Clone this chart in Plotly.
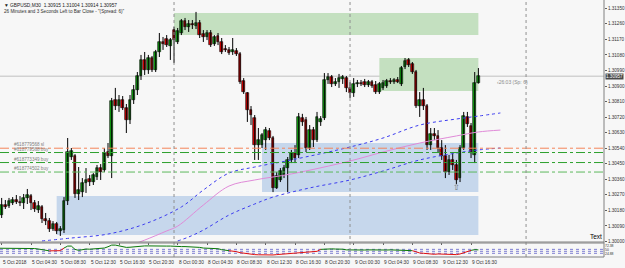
import plotly.graph_objects as go

# ---------------- data ----------------
# GBPUSD M30 bars: 5 Oct 00:00 ... 9 Oct 17:30 (index 0..131)
opens = [1.30182,1.30153,1.30211,1.30205,1.30223,1.30240,1.30228,1.30223,1.30252,1.30263,
         1.30223,1.30182,1.30199,1.30130,1.30118,1.30072,1.30101,1.30061,1.30066,1.30234,
         1.30489,1.30495,1.30275,1.30286,1.30338,1.30362,1.30344,1.30373,1.30425,1.30414,
         1.30518,1.30495,1.30819,1.30784,1.30819,1.30773,1.30703,1.30819,1.30877,1.30958,
         1.31051,1.30993,1.31062,1.30993,1.31097,1.31155,1.31172,1.31132,1.31224,1.31155,
         1.31207,1.31276,1.31242,1.31259,1.31248,1.31265,1.31201,1.31184,1.31207,1.31143,
         1.31190,1.31155,1.31114,1.31109,1.31097,1.31103,1.31085,1.30929,1.30860,1.30761,
         1.30715,1.30558,1.30558,1.30587,1.30640,1.30599,1.30310,1.30356,1.30385,1.30425,
         1.30472,1.30512,1.30501,1.30715,1.30703,1.30541,1.30645,1.30587,1.30692,1.30715,
         1.30935,1.30952,1.30912,1.30923,1.30941,1.30946,1.30889,1.30860,1.30912,1.30917,
         1.30923,1.30906,1.30923,1.30906,1.30865,1.30889,1.30900,1.30929,1.30923,1.30935,
         1.30912,1.31010,1.31051,1.31027,1.30981,1.30784,1.30819,1.30784,1.30558,1.30622,
         1.30611,1.30541,1.30495,1.30402,1.30472,1.30443,1.30367,1.30541,1.30721,1.30669,
         1.30501,1.30915]
highs = [1.30211,1.30252,1.30240,1.30252,1.30257,1.30269,1.30263,1.30275,1.30304,1.30275,
         1.30240,1.30234,1.30211,1.30165,1.30136,1.30118,1.30113,1.30089,1.30257,1.30599,
         1.30541,1.30506,1.30431,1.30367,1.30425,1.30385,1.30396,1.30443,1.30448,1.30541,
         1.30570,1.30831,1.30889,1.30848,1.30842,1.30796,1.30848,1.30906,1.30981,1.31080,
         1.31097,1.31080,1.31074,1.31109,1.31207,1.31184,1.31195,1.31178,1.31242,1.31236,
         1.31288,1.31294,1.31282,1.31282,1.31329,1.31282,1.31224,1.31224,1.31224,1.31195,
         1.31207,1.31178,1.31137,1.31126,1.31178,1.31120,1.31097,1.30946,1.30865,1.30784,
         1.30732,1.30657,1.30628,1.30663,1.30657,1.30611,1.30402,1.30425,1.30443,1.30489,
         1.30530,1.30558,1.30744,1.30739,1.30721,1.30674,1.30663,1.30750,1.30726,1.30975,
         1.30975,1.30964,1.30946,1.30970,1.30964,1.30958,1.30923,1.30946,1.30935,1.30935,
         1.30941,1.30935,1.30935,1.30929,1.30923,1.30935,1.30941,1.30946,1.30946,1.30952,
         1.31016,1.31062,1.31062,1.31039,1.30993,1.30865,1.30889,1.30796,1.30657,1.30657,
         1.30645,1.30587,1.30558,1.30501,1.30518,1.30472,1.30558,1.30750,1.30750,1.30686,
         1.30981,1.31004]
lows = [1.30159,1.30136,1.30188,1.30194,1.30211,1.30217,1.30205,1.30188,1.30217,1.30182,
        1.30171,1.30165,1.30107,1.30095,1.30055,1.30061,1.30043,1.30032,1.30049,1.30211,
        1.30472,1.30252,1.30240,1.30257,1.30281,1.30321,1.30327,1.30356,1.30356,1.30402,
        1.30483,1.30367,1.30761,1.30750,1.30761,1.30628,1.30680,1.30796,1.30848,1.30935,
        1.30964,1.30970,1.30981,1.30981,1.31068,1.31109,1.31126,1.31051,1.31033,1.31143,
        1.31195,1.31224,1.31213,1.31230,1.31230,1.31178,1.31155,1.31166,1.31126,1.31132,
        1.31137,1.31085,1.31097,1.31080,1.31080,1.31074,1.30912,1.30854,1.30692,1.30674,
        1.30472,1.30472,1.30541,1.30530,1.30587,1.30286,1.30304,1.30344,1.30367,1.30286,
        1.30454,1.30454,1.30483,1.30669,1.30518,1.30530,1.30547,1.30576,1.30669,1.30703,
        1.30912,1.30894,1.30900,1.30889,1.30912,1.30865,1.30831,1.30837,1.30894,1.30900,
        1.30894,1.30894,1.30889,1.30854,1.30854,1.30877,1.30889,1.30912,1.30912,1.30917,
        1.30900,1.30998,1.31010,1.30970,1.30773,1.30721,1.30761,1.30530,1.30530,1.30587,
        1.30518,1.30472,1.30367,1.30385,1.30414,1.30333,1.30344,1.30530,1.30663,1.30483,
        1.30454,1.30914]
closes = [1.30171,1.30211,1.30199,1.30234,1.30240,1.30228,1.30223,1.30252,1.30269,1.30223,
          1.30188,1.30205,1.30130,1.30118,1.30072,1.30101,1.30061,1.30072,1.30234,1.30518,
          1.30524,1.30275,1.30298,1.30338,1.30356,1.30344,1.30385,1.30425,1.30402,1.30512,
          1.30495,1.30813,1.30784,1.30819,1.30773,1.30703,1.30819,1.30877,1.30958,1.31051,
          1.30993,1.31062,1.30993,1.31097,1.31155,1.31143,1.31137,1.31166,1.31166,1.31219,
          1.31276,1.31242,1.31259,1.31253,1.31265,1.31195,1.31184,1.31207,1.31137,1.31184,
          1.31155,1.31097,1.31109,1.31091,1.31109,1.31085,1.30923,1.30865,1.30761,1.30732,
          1.30558,1.30587,1.30616,1.30645,1.30599,1.30310,1.30379,1.30408,1.30425,1.30472,
          1.30512,1.30483,1.30721,1.30692,1.30541,1.30645,1.30587,1.30721,1.30709,1.30935,
          1.30952,1.30912,1.30923,1.30946,1.30952,1.30889,1.30860,1.30912,1.30917,1.30912,
          1.30906,1.30923,1.30900,1.30865,1.30912,1.30917,1.30929,1.30923,1.30935,1.30923,
          1.31004,1.31045,1.31022,1.30981,1.30784,1.30819,1.30784,1.30558,1.30622,1.30611,
          1.30541,1.30495,1.30402,1.30472,1.30443,1.30356,1.30541,1.30726,1.30680,1.30512,
          1.30915,1.30957]

# x-axis labels (bar index -> text)
tick_bars = [1, 9, 17, 25, 33, 41, 49, 57, 65, 73, 81, 89, 97, 105, 113, 121, 129]
tick_text = ["5 Oct 2018", "5 Oct 04:30", "5 Oct 08:30", "5 Oct 12:30", "5 Oct 16:30",
             "5 Oct 20:30", "8 Oct 00:30", "8 Oct 04:30", "8 Oct 08:30", "8 Oct 12:30",
             "8 Oct 16:30", "8 Oct 20:30", "9 Oct 00:30", "9 Oct 04:30", "9 Oct 08:30",
             "9 Oct 12:30", "9 Oct 16:30"]
day_start_bars = [48, 96, 144]

price_ticks = [1.30000, 1.30090, 1.30180, 1.30270, 1.30360, 1.30450, 1.30540, 1.30630,
               1.30720, 1.30810, 1.30900, 1.30990, 1.31080, 1.31170, 1.31260, 1.31350]

# moving averages (sampled bars, values)
ma_fast_bars = [12, 20, 30, 40, 50, 56, 63, 70, 80, 96, 105, 115, 125, 131, 137]
ma_fast_vals = [1.30003, 1.30020, 1.30043, 1.30101, 1.30200, 1.30298, 1.30396, 1.30431,
                1.30472, 1.30547, 1.30599, 1.30674, 1.30709, 1.30726, 1.30744]
ma_slow_bars = [49, 52, 56, 63, 70, 75, 85, 96, 105, 115, 125, 131, 137]
ma_slow_vals = [1.30003, 1.30026, 1.30066, 1.30153, 1.30217, 1.30257, 1.30310, 1.30356,
                1.30408, 1.30472, 1.30512, 1.30530, 1.30541]
ma_pink_bars = [37, 40, 46, 49, 56, 63, 70, 80, 96, 105, 115, 125, 131, 137]
ma_pink_vals = [1.29985, 1.30008, 1.30061, 1.30089, 1.30211, 1.30321, 1.30356, 1.30391,
                1.30466, 1.30518, 1.30570, 1.30611, 1.30634, 1.30645]

# zones: (start bar, end bar, upper price, lower price)
supply_zones = [(48, 131, 1.31323, 1.31195), (104, 131, 1.31062, 1.30871)]
demand_zones = [(72, 131, 1.30570, 1.30286), (16, 131, 1.30263, 1.30037)]

# order lines
order_prices = [1.30540, 1.30515, 1.30457, 1.30402]
order_labels = ["#618779568 sl", "#618779568 buy", "#618773349 buy", "#618774502 buy"]

bid_price = 1.30957
arrow_bar, arrow_price = 125, 1.30310

# oscillator sub-window (one value per bar)
osc_vals = [57, 57, 56, 57, 58, 57, 56, 57, 58, 56, 55,
            52, 48, 44, 41, 40, 40, 42, 58, 70, 70, 50, 44, 48, 52, 51, 52, 53, 55, 58, 66,
            76, 76, 70, 66, 62, 63,
            66, 68, 70, 71, 71, 70, 71, 72, 71, 70, 70, 68,
            66, 67, 67, 66, 66, 65,
            62, 58, 57, 56, 56, 54, 48, 44, 42, 40,
            36, 30, 26, 22, 20, 18, 17, 16, 16, 17, 16, 18, 20, 22, 24, 26, 28, 30, 30,
            32, 33, 34, 38,
            50, 52, 52, 53, 52, 52, 51,
            47, 46, 46, 45, 46, 46, 47, 46, 46, 46, 45, 46, 47, 46, 47, 48, 47, 46, 42,
            34, 28, 26, 24, 20, 20, 22, 21, 20, 19, 20, 18, 22, 30,
            40, 44, 48, 47]
osc_levels = [50, 38.2, 26]
osc_range = [3.5, 88.8]
osc_label_vals = [72.38, 50, 24.88]

# ---------------- figure ----------------
W, H = 625, 268
PLOT_W = 604
X0 = 2.0 / 3.667
X1 = (PLOT_W + 2.0) / 3.667

idx = list(range(len(opens)))
bull_c, bear_c = "#12A512", "#E00000"

fig = go.Figure()

# wicks
wx, wy = [], []
for i in idx:
    wx += [i, i, None]
    wy += [lows[i], highs[i], None]
fig.add_trace(go.Scatter(x=wx, y=wy, mode="lines", line=dict(color="black", width=1),
                         hoverinfo="skip", showlegend=False))
# bodies
base = [min(o, c) for o, c in zip(opens, closes)]
hgt = [max(abs(c - o), 0.000012) for o, c in zip(opens, closes)]
cols = [bull_c if c >= o else bear_c for o, c in zip(opens, closes)]
fig.add_trace(go.Bar(x=idx, y=hgt, base=base, width=0.72,
                     marker=dict(color=cols, line=dict(color="black", width=0.6)),
                     hoverinfo="skip", showlegend=False))

# moving averages
fig.add_trace(go.Scatter(x=ma_fast_bars, y=ma_fast_vals, mode="lines", line_shape="spline",
                         line=dict(color="#3C3CF0", width=1, dash="dot"), showlegend=False))
fig.add_trace(go.Scatter(x=ma_slow_bars, y=ma_slow_vals, mode="lines", line_shape="spline",
                         line=dict(color="#3C3CF0", width=1, dash="dot"), showlegend=False))
fig.add_trace(go.Scatter(x=ma_pink_bars, y=ma_pink_vals, mode="lines", line_shape="spline",
                         line=dict(color="#E08AD8", width=1), showlegend=False))

# oscillator
osc_bars = idx
thr = 43
g_y = [v if v >= thr else None for v in osc_vals]
r_y = [v if v < thr else None for v in osc_vals]
for k in range(1, len(osc_vals)):
    if (osc_vals[k] >= thr) != (osc_vals[k - 1] >= thr):
        if osc_vals[k] >= thr:
            r_y[k] = osc_vals[k]
        else:
            g_y[k] = osc_vals[k]
fig.add_trace(go.Scatter(x=osc_bars, y=g_y, mode="lines", line=dict(color="#0A780A", width=1),
                         yaxis="y2", showlegend=False, connectgaps=False))
fig.add_trace(go.Scatter(x=osc_bars, y=r_y, mode="lines", line=dict(color="#E01010", width=1),
                         yaxis="y2", showlegend=False, connectgaps=False))

shapes = []
for (a, b, top, bot) in supply_zones:
    shapes.append(dict(type="rect", xref="x", yref="y", x0=a, x1=b, y0=bot, y1=top,
                       fillcolor="#C4E0C0", line=dict(width=0), layer="below"))
for (a, b, top, bot) in demand_zones:
    shapes.append(dict(type="rect", xref="x", yref="y", x0=a, x1=b, y0=bot, y1=top,
                       fillcolor="#C6D7EC", line=dict(width=0), layer="below"))
shapes.append(dict(type="line", xref="paper", yref="y", x0=0, x1=1, y0=bid_price, y1=bid_price,
                   line=dict(color="#C0C0C0", width=1), layer="below"))
order_cols = ["#F4845A", "#2DA02D", "#2DA02D", "#5DB85D"]
for p, c in zip(order_prices, order_cols):
    shapes.append(dict(type="line", xref="paper", yref="y", x0=0, x1=1, y0=p, y1=p,
                       line=dict(color=c, width=1, dash="dashdot")))
for b in day_start_bars:
    shapes.append(dict(type="line", xref="x", yref="paper", x0=b, x1=b, y0=0, y1=1,
                       line=dict(color="#909090", width=1, dash="dot")))
for lv in osc_levels:
    shapes.append(dict(type="line", xref="paper", yref="y2", x0=0, x1=1, y0=lv, y1=lv,
                       line=dict(color="#6060C8", width=0.8, dash="dot"), layer="below"))
SUB_TOP = 14.0 / 257
MAIN_BOT = 15.0 / 257
for yy in (MAIN_BOT, SUB_TOP, 0):
    shapes.append(dict(type="line", xref="paper", yref="paper", x0=0, x1=1, y0=yy, y1=yy,
                       line=dict(color="#808080", width=1)))
shapes.append(dict(type="line", xref="paper", yref="paper", x0=1, x1=1, y0=0, y1=1,
                   line=dict(color="#808080", width=1)))

FONT = "Liberation Sans"
ann = []
for b, t in zip(tick_bars, tick_text):
    ann.append(dict(x=b, y=0, xref="x", yref="paper", text=t, showarrow=False,
                    xanchor="left", yanchor="top", yshift=-1, xshift=-1,
                    font=dict(family=FONT, size=4.8, color="#303030")))
for p, t in zip(order_prices, order_labels):
    ann.append(dict(x=0.02, y=p, xref="paper", yref="y", text=t, showarrow=False,
                    xanchor="left", yanchor="bottom", yshift=-1,
                    font=dict(family=FONT, size=4.6, color="#808080")))
ann.append(dict(x=1, y=bid_price, xref="paper", yref="y", text="1.30957", showarrow=False,
                xanchor="left", yanchor="middle", xshift=1, bgcolor="#4A4A4A",
                font=dict(family=FONT, size=4.6, color="white"), borderpad=0))
ann.append(dict(x=arrow_bar, y=arrow_price, xref="x", yref="y", text="⇧", showarrow=False,
                font=dict(family="DejaVu Sans", size=8, color="#707070")))
ann.append(dict(x=135.5, y=bid_price, xref="x", yref="y", text="‹26:03 (Sp: 6)", showarrow=False,
                xanchor="left", yanchor="top", yshift=-1,
                font=dict(family=FONT, size=5, color="#8C8C8C")))
ann.append(dict(x=0.003, y=1, xref="paper", yref="paper",
                text="▼ GBPUSD,M30  1.30915 1.31004 1.30914 1.30957", showarrow=False,
                xanchor="left", yanchor="top", yshift=-1,
                font=dict(family=FONT, size=4.8, color="#202020")))
ann.append(dict(x=0.003, y=1, xref="paper", yref="paper",
                text='26 Minutes and 3 Seconds Left to Bar Close - "(Spread: 6)"', showarrow=False,
                xanchor="left", yanchor="top", yshift=-7,
                font=dict(family=FONT, size=4.6, color="#303030")))
ann.append(dict(x=1, y=MAIN_BOT, xref="paper", yref="paper", text="Text", showarrow=False,
                xanchor="right", yanchor="bottom", yshift=0,
                font=dict(family=FONT, size=6.5, color="black")))

fig.update_layout(
    width=W, height=H,
    margin=dict(l=0, r=W - PLOT_W, t=0, b=11),
    paper_bgcolor="#F7F7F7", plot_bgcolor="#F7F7F7",
    showlegend=False, bargap=0,
    xaxis=dict(range=[X0, X1], showgrid=False, zeroline=False, showline=False,
               tickvals=tick_bars, ticks="outside", ticklen=2, tickcolor="#606060",
               showticklabels=False, fixedrange=True),
    yaxis=dict(domain=[MAIN_BOT, 1], range=[1.29997, 1.31398], side="right",
               showgrid=False, zeroline=False, showline=False,
               tickvals=price_ticks, ticktext=[f"{v:.5f}" for v in price_ticks],
               ticks="outside", ticklen=2, tickcolor="#606060",
               tickfont=dict(family=FONT, size=4.6, color="#303030")),
    yaxis2=dict(domain=[0, SUB_TOP], range=osc_range, side="right", anchor="x",
                showgrid=False, zeroline=False, showline=False,
                tickvals=osc_label_vals, ticktext=[f"{v:g}" for v in osc_label_vals],
                ticks="", tickfont=dict(family=FONT, size=3.4, color="#303030")),
    shapes=shapes, annotations=ann,
)

fig.write_html("out.html")
